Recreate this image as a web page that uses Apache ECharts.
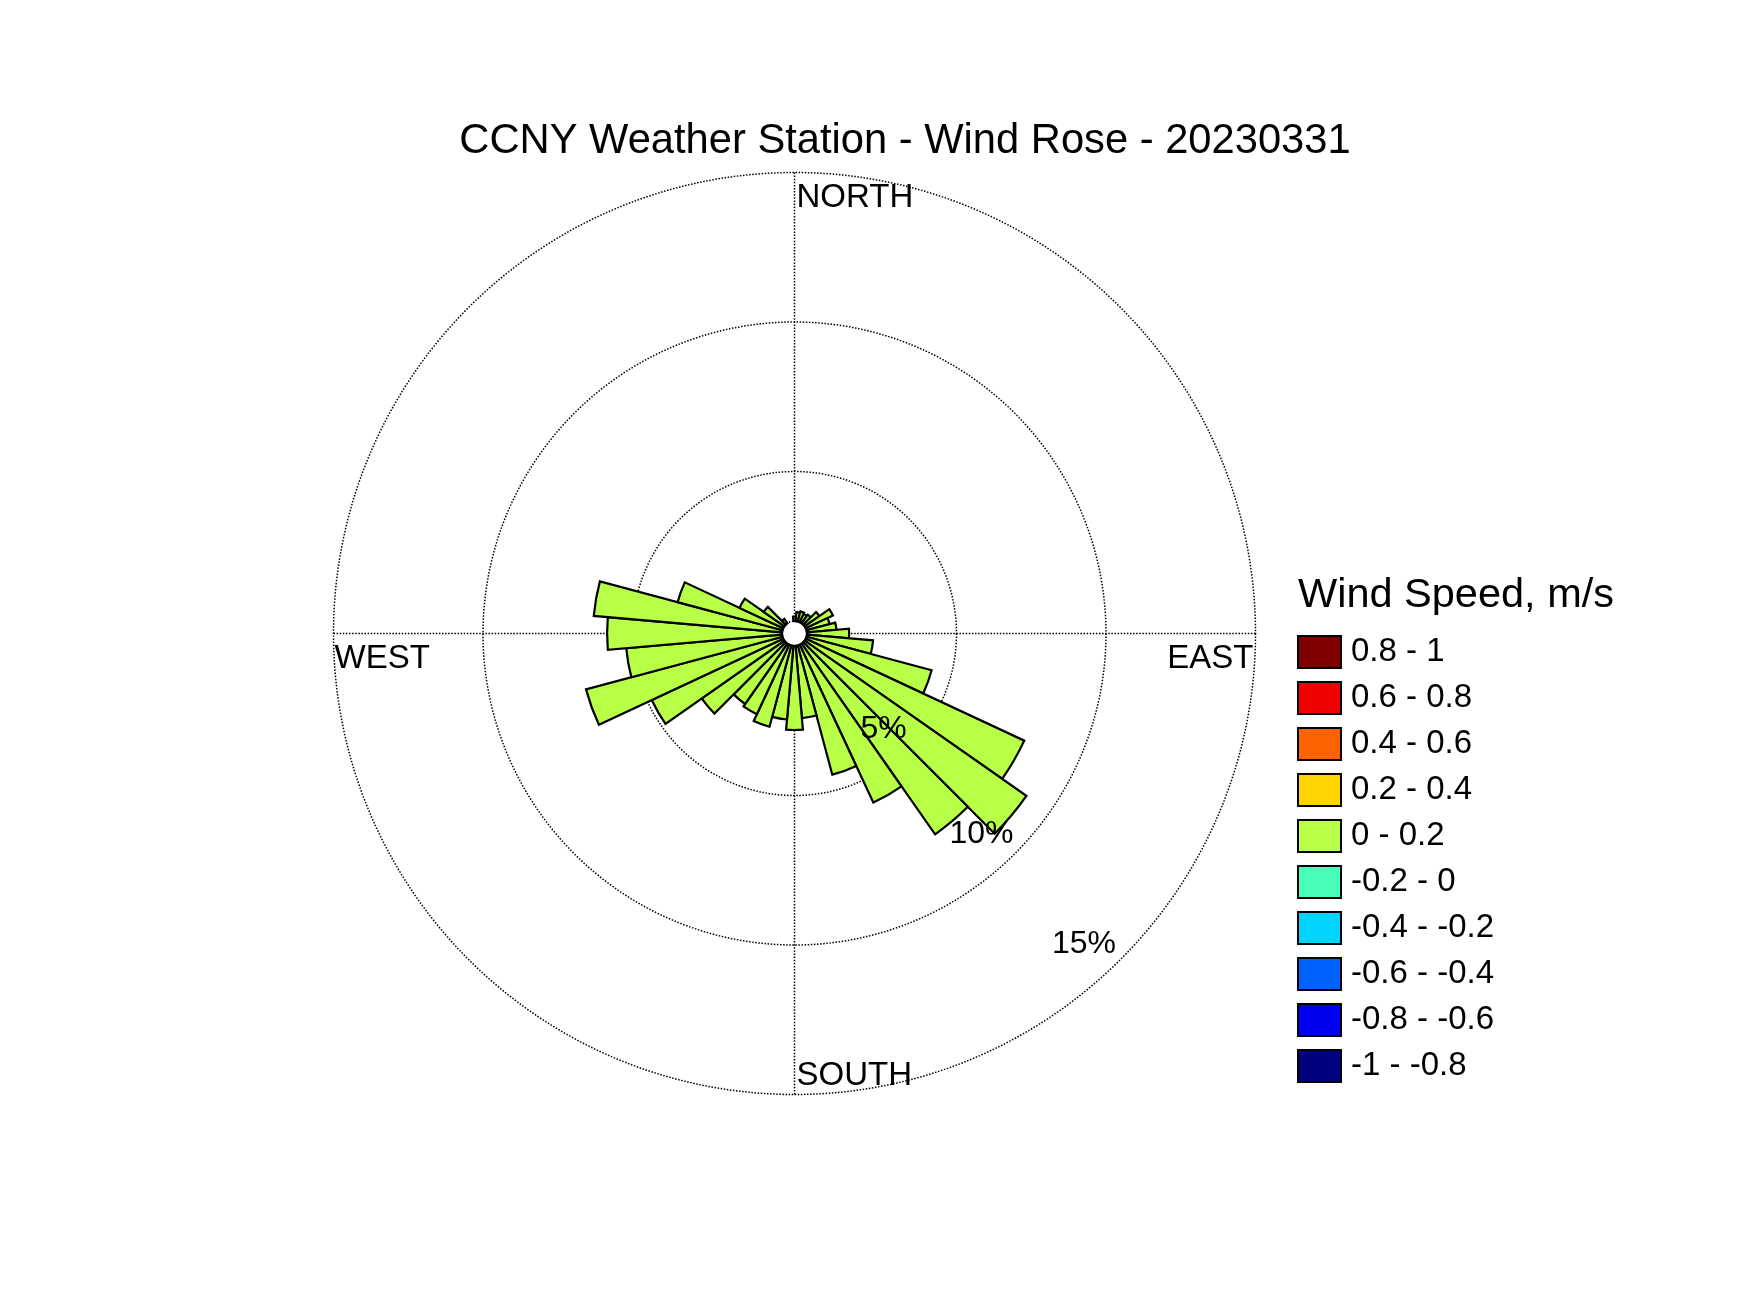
<!DOCTYPE html>
<html><head><meta charset="utf-8">
<script src="https://cdn.jsdelivr.net/npm/echarts@6/dist/echarts.min.js"></script>
<style>html,body{margin:0;padding:0;background:#fff}#c{width:1750px;height:1313px}</style>
</head><body><div id="c"></div>
<script>
// ---- data ----
const directions = ['0','10','20','30','40','50','60','70','80','90','100','110','120','130','140','150','160','170',
                    '180','190','200','210','220','230','240','250','260','270','280','290','300','310','320','330','340','350'];
const speedBins = ['-1 - -0.8','-0.8 - -0.6','-0.6 - -0.4','-0.4 - -0.2','-0.2 - 0','0 - 0.2','0.2 - 0.4','0.4 - 0.6','0.6 - 0.8','0.8 - 1'];
const binColors = ['#000080','#0000F1','#0063FF','#00D4FF','#47FFB8','#B8FF47','#FFD400','#FF6300','#F10000','#800000'];
// frequency (%) per direction for the only populated bin "0 - 0.2"
const freq0to02 = [0.15,0.3,0.35,0.3,0.35,0.6,1.0,0.8,0.99,1.41,2.22,4.33,8.06,9.05,7.78,5.82,4.47,2.42,
                   2.81,2.47,2.81,2.56,2.46,3.37,4.85,6.8,5.23,5.85,6.32,3.63,1.61,0.84,0.18,0,0,0];
const radialTicks = [5,10,15];
const compassLabels = ['NORTH','EAST','SOUTH','WEST'];
const titleText = 'CCNY Weather Station - Wind Rose - 20230331';
const legendTitle = 'Wind Speed, m/s';

// ---- layout ----
const CX = 794.5, CY = 633.5, R0 = 12.5, R1 = 461, RMAX = 15;
const LABEL_ANGLE = 137, LABEL_INSET = [1.05, 1.25, 1.22];
const FONT = '"Liberation Sans", Arial, Helvetica, sans-serif';
const dotted = {color:'#000', type:[1.5,1.6], width:1.5};

const chart = echarts.init(document.getElementById('c'), null, {renderer:'canvas'});

const binSeries = speedBins.map((name, i) => ({
  name, type:'bar', coordinateSystem:'polar', polarIndex:0, stack:'wind',
  barCategoryGap:'0%', barGap:'0%',
  itemStyle:{color:binColors[i], borderColor:'#000', borderWidth:2.2},
  data: name === '0 - 0.2' ? freq0to02.map(v => v > 0 ? v : '-') : [],
  silent:true, z:3
}));

const cfs = 33;
const graphics = [
  {type:'text', x:905, y:141.5, style:{text:titleText, fontSize:41.7, fontFamily:FONT, fill:'#000', align:'center', verticalAlign:'middle'}},
  {type:'text', x:1298, y:595.5, style:{text:legendTitle, fontSize:41.5, fontFamily:FONT, fill:'#000', align:'left', verticalAlign:'middle'}},
  {type:'text', x:CX + 2, y:CY - R1 + 25.7, z:20, style:{text:compassLabels[0], fontSize:cfs, fontFamily:FONT, fill:'#000', align:'left', verticalAlign:'middle'}},
  {type:'text', x:CX + R1 - 2, y:CY + 25, z:20, style:{text:compassLabels[1], fontSize:cfs, fontFamily:FONT, fill:'#000', align:'right', verticalAlign:'middle'}},
  {type:'text', x:CX + 2, y:CY + R1 - 18.8, z:20, style:{text:compassLabels[2], fontSize:cfs, fontFamily:FONT, fill:'#000', align:'left', verticalAlign:'middle'}},
  {type:'text', x:CX - R1 + 1, y:CY + 25, z:20, style:{text:compassLabels[3], fontSize:cfs, fontFamily:FONT, fill:'#000', align:'left', verticalAlign:'middle'}}
];

chart.setOption({
  animation:false,
  backgroundColor:'#fff',
  polar:[
    {center:[CX, CY], radius:[R0, R1]},
    {center:[CX, CY], radius:[R0, R1]}
  ],
  angleAxis:[
    {polarIndex:0, type:'category', data:directions, startAngle:95, clockwise:true, boundaryGap:true,
     axisLine:{show:false}, axisTick:{show:false}, axisLabel:{show:false}, splitLine:{show:false}, splitArea:{show:false}},
    {polarIndex:1, type:'value', min:0, max:360, interval:90, startAngle:90, clockwise:true,
     axisLine:{show:false}, axisTick:{show:false}, axisLabel:{show:false}, splitLine:{show:true, lineStyle:dotted}, splitArea:{show:false}}
  ],
  radiusAxis:[
    {polarIndex:0, type:'value', min:0, max:RMAX,
     axisLine:{show:false}, axisTick:{show:false}, axisLabel:{show:false}, splitLine:{show:false}},
    {polarIndex:1, type:'value', min:0, max:RMAX, interval:5,
     axisLine:{show:false}, axisTick:{show:false}, axisLabel:{show:false}, splitLine:{show:true, lineStyle:dotted}}
  ],
  legend:{
    orient:'vertical', left:1297, top:635, padding:0,
    itemWidth:43, itemHeight:32, itemGap:12, icon:'rect', selectedMode:false,
    data: speedBins.slice().reverse(),
    itemStyle:{borderColor:'#000', borderWidth:2},
    textStyle:{fontSize:33, color:'#000', fontFamily:FONT, lineHeight:32, padding:[0,0,0,5]}
  },
  series: binSeries,
  graphic: graphics
});

// percentage labels placed through the polar scale of the grid
const pctGraphics = radialTicks.map((v, i) => {
  const p = chart.convertToPixel({polarIndex:1}, [v - LABEL_INSET[i], LABEL_ANGLE]);
  return {type:'text', x:p[0], y:p[1], z:30,
          style:{text:v + '%', fontSize:32, fontFamily:FONT, fill:'#000', align:'center', verticalAlign:'middle'}};
});
chart.setOption({graphic: graphics.concat(pctGraphics)});
</script>
</body></html>
